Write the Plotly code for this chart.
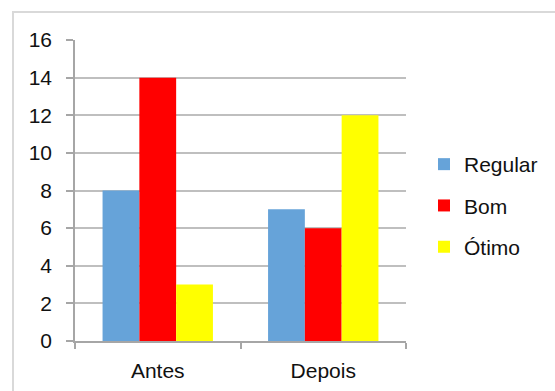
import plotly.graph_objects as go

categories = ["Antes", "Depois"]
series_names = ["Regular", "Bom", "Ótimo"]
regular = [8, 7]
bom = [14, 6]
otimo = [3, 12]
colors = ["#66A3D9", "#FF0000", "#FFFF00"]
y_ticks = [0, 2, 4, 6, 8, 10, 12, 14, 16]

W, H = 555, 391
L, R, T, B = 75, 406, 40, 341

fig = go.Figure()
for i, (name, vals) in enumerate(zip(series_names, [regular, bom, otimo])):
    fig.add_trace(go.Bar(x=categories, y=vals, name=name, marker_color=colors[i],
                         marker_line_width=0, legendgroup=name))

pw, ph = R - L, B - T
def px(x):
    return (x - L) / pw
def py(y):
    return (B - y) / ph

fig.add_shape(type="rect", xref="paper", yref="paper",
              x0=px(13), x1=px(560), y0=py(12), y1=py(395),
              line=dict(color="#D9D9D9", width=2), fillcolor="rgba(0,0,0,0)", layer="below")

font = dict(family="Liberation Sans, Arial, sans-serif", size=21, color="#111111")

fig.update_layout(
    width=W, height=H,
    margin=dict(l=L, r=W - R, t=T, b=H - B, pad=0, autoexpand=False),
    paper_bgcolor="white", plot_bgcolor="white",
    barmode="group", bargap=0.333, bargroupgap=0,
    font=font,
    showlegend=True,
    legend=dict(x=px(424), y=py(144), xanchor="left", yanchor="top",
                traceorder="grouped", tracegroupgap=11, font=font,
                itemwidth=30, bgcolor="rgba(0,0,0,0)"),
    xaxis=dict(showline=True, linecolor="#A6A6A6", linewidth=1.5, automargin=False,
               ticks="outside", tickson="boundaries", ticklen=6, tickcolor="#A6A6A6",
               tickwidth=1.5, showgrid=False, tickfont=font, zeroline=False,
               ticklabelstandoff=10),
    yaxis=dict(range=[0, 16], tickvals=y_ticks, showline=True, linecolor="#A6A6A6",
               linewidth=1.5, ticks="outside", ticklen=7, tickcolor="#A6A6A6", tickwidth=1.5,
               showgrid=True, gridcolor="#BFBFBF", gridwidth=1.5, zeroline=False,
               automargin=False, tickfont=font, ticklabelstandoff=10),
)

fig.write_html("out.html")
